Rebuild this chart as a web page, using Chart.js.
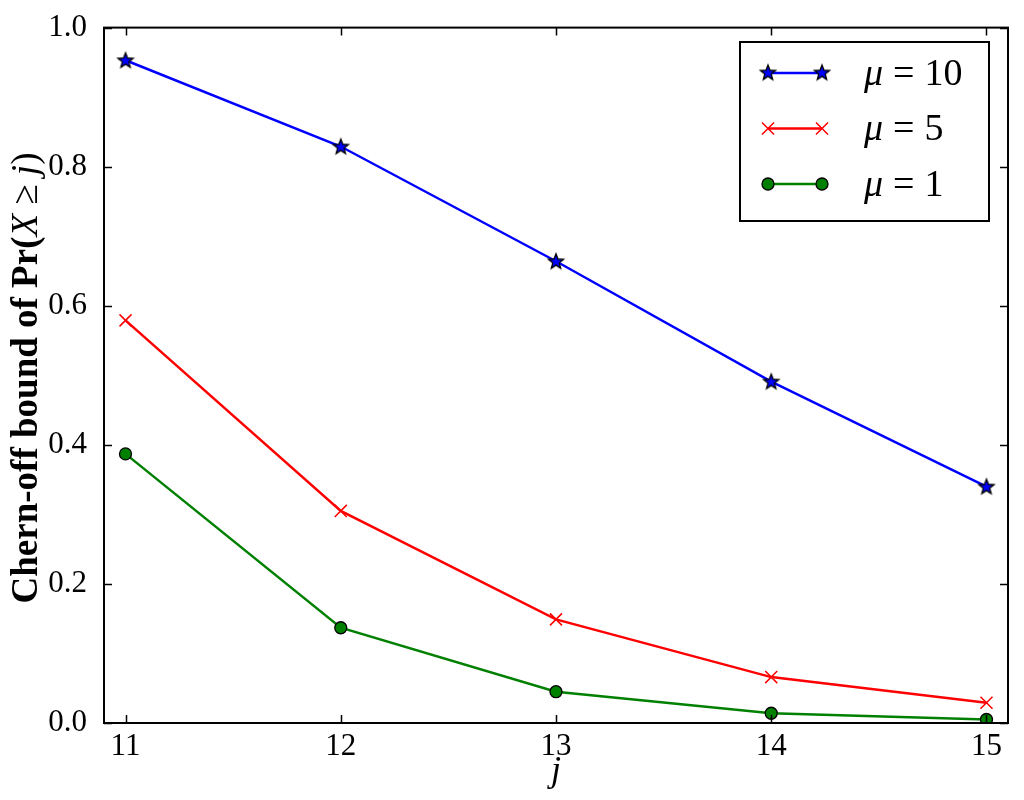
<!DOCTYPE html>
<html>
<head>
<meta charset="utf-8">
<script src="https://cdn.jsdelivr.net/npm/chart.js@4"></script>
<style>
  html, body { margin: 0; padding: 0; background: #fff; }
  canvas { display: block; }
</style>
</head>
<body>
<canvas id="chart" width="1024" height="800"></canvas>
<script>
// values
const jValues = [11, 12, 13, 14, 15];
const mu10 = [0.953, 0.829, 0.664, 0.491, 0.340];
const mu5 = [0.579, 0.305, 0.149, 0.066, 0.029];
const mu1 = [0.387, 0.137, 0.045, 0.014, 0.005];
const seriesLabels = ['10', '5', '1'];
const yTicks = [0.0, 0.2, 0.4, 0.6, 0.8, 1.0];

const SERIF = '"Liberation Serif", "DejaVu Serif", serif';

function starImage(fill) {
    const c = document.createElement('canvas');
    c.width = 20;
    c.height = 20;
    const g = c.getContext('2d');
    g.beginPath();
    for (let i = 0; i < 10; i++) {
        const r = i % 2 === 0 ? 8 : 3.4;
        const a = -Math.PI / 2 + i * Math.PI / 5;
        const px = 10 + r * Math.cos(a);
        const py = 10.5 + r * Math.sin(a);
        if (i === 0) g.moveTo(px, py); else g.lineTo(px, py);
    }
    g.closePath();
    g.fillStyle = fill;
    g.fill();
    g.lineWidth = 1.3;
    g.strokeStyle = '#000';
    g.stroke();
    return c;
}
const star = starImage('#0000ff');

function toPoints(ys) {
    return jValues.map((x, i) => ({ x: x, y: ys[i] }));
}

// inward ticks on all four sides + the frame
const framePlugin = {
    id: 'frame',
    afterDatasetsDraw(chart) {
        const { ctx, chartArea: a, scales } = chart;
        ctx.save();
        ctx.strokeStyle = '#000';
        ctx.lineWidth = 1.5;
        const tl = 8;
        ctx.beginPath();
        scales.x.ticks.forEach(t => {
            const px = Math.round(scales.x.getPixelForValue(t.value)) + 0.5;
            ctx.moveTo(px, a.bottom); ctx.lineTo(px, a.bottom - tl);
            ctx.moveTo(px, a.top); ctx.lineTo(px, a.top + tl);
        });
        scales.y.ticks.forEach(t => {
            const py = Math.round(scales.y.getPixelForValue(t.value)) + 0.5;
            ctx.moveTo(a.left, py); ctx.lineTo(a.left + tl, py);
            ctx.moveTo(a.right, py); ctx.lineTo(a.right - tl, py);
        });
        ctx.stroke();
        ctx.lineWidth = 2;
        ctx.strokeRect(a.left, a.top, a.right - a.left, a.bottom - a.top);
        ctx.restore();
    }
};

// axis titles with mixed text/math styling
const titlesPlugin = {
    id: 'titles',
    afterDraw(chart) {
        const { ctx, chartArea: a } = chart;
        ctx.save();
        ctx.fillStyle = '#000';
        ctx.textBaseline = 'middle';

        // x title
        ctx.font = 'italic 36px ' + SERIF;
        ctx.textAlign = 'center';
        ctx.fillText('j', (a.left + a.right) / 2, 772);

        // y title, rotated
        const parts = [
            ['bold 37px ' + SERIF, 'Chern-off bound of Pr('],
            ['italic 37px ' + SERIF, 'X'],
            ['37px ' + SERIF, ' \u2265 '],
            ['italic 37px ' + SERIF, 'j'],
            ['37px ' + SERIF, ')']
        ];
        let total = 0;
        parts.forEach(p => { ctx.font = p[0]; total += ctx.measureText(p[1]).width; });
        ctx.translate(27, 378);
        ctx.rotate(-Math.PI / 2);
        ctx.textAlign = 'left';
        let cx = -total / 2;
        parts.forEach(p => {
            ctx.font = p[0];
            ctx.fillText(p[1], cx, 0);
            cx += ctx.measureText(p[1]).width;
        });
        ctx.restore();
    }
};

// matplotlib-like legend: line with a marker at both ends
const legendPlugin = {
    id: 'mplLegend',
    afterDraw(chart) {
        const { ctx } = chart;
        const box = { x: 740, y: 42, w: 249, h: 179 };
        ctx.save();
        ctx.fillStyle = '#fff';
        ctx.fillRect(box.x, box.y, box.w, box.h);
        ctx.strokeStyle = '#000';
        ctx.lineWidth = 2;
        ctx.strokeRect(box.x, box.y, box.w, box.h);

        chart.data.datasets.forEach((ds, i) => {
            const y = 73 + i * 55.5;
            const x0 = 768, x1 = 822;
            ctx.strokeStyle = ds.borderColor;
            ctx.lineWidth = ds.borderWidth;
            ctx.beginPath();
            ctx.moveTo(x0, y);
            ctx.lineTo(x1, y);
            ctx.stroke();
            [x0, x1].forEach(px => {
                if (ds.pointStyle === star) {
                    ctx.drawImage(star, px - 10, y - 10.5);
                    return;
                }
                ctx.fillStyle = ds.pointBackgroundColor;
                ctx.strokeStyle = ds.pointBorderColor;
                ctx.lineWidth = ds.pointBorderWidth;
                ctx.beginPath();
                if (ds.pointStyle === 'circle') {
                    ctx.arc(px, y, ds.pointRadius, 0, Math.PI * 2);
                    ctx.fill();
                    ctx.stroke();
                } else {
                    const d = ds.pointRadius * 0.7071;
                    ctx.moveTo(px - d, y - d); ctx.lineTo(px + d, y + d);
                    ctx.moveTo(px - d, y + d); ctx.lineTo(px + d, y - d);
                    ctx.stroke();
                }
            });
            ctx.fillStyle = '#000';
            ctx.textBaseline = 'middle';
            ctx.textAlign = 'left';
            ctx.font = 'italic 38px ' + SERIF;
            ctx.fillText('\u03bc', 864, y + 2);
            let x = 864 + ctx.measureText('\u03bc').width + 10;
            ctx.font = '38px ' + SERIF;
            ctx.fillText('=', x, y + 2);
            x += ctx.measureText('=').width + 10;
            ctx.fillText(seriesLabels[i], x, y + 2);
        });
        ctx.restore();
    }
};

const ctx = document.getElementById('chart').getContext('2d');
new Chart(ctx, {
    type: 'line',
    data: {
        datasets: [
            {
                label: 'mu = 10',
                data: toPoints(mu10),
                borderColor: '#0000ff',
                borderWidth: 2.5,
                pointStyle: star,
                pointRadius: 9,
                pointBackgroundColor: '#0000ff',
                pointBorderColor: '#000',
                pointBorderWidth: 1.3
            },
            {
                label: 'mu = 5',
                data: toPoints(mu5),
                borderColor: '#ff0000',
                borderWidth: 2.5,
                pointStyle: 'crossRot',
                pointRadius: 8.5,
                pointBackgroundColor: '#ff0000',
                pointBorderColor: '#ff0000',
                pointBorderWidth: 1.5
            },
            {
                label: 'mu = 1',
                data: toPoints(mu1),
                borderColor: '#008000',
                borderWidth: 2.5,
                pointStyle: 'circle',
                pointRadius: 6,
                pointBackgroundColor: '#008000',
                pointBorderColor: '#000',
                pointBorderWidth: 1.3
            }
        ]
    },
    options: {
        responsive: false,
        animation: false,
        events: [],
        layout: { padding: { left: 0, top: 23, right: 16, bottom: 0 } },
        elements: { line: { tension: 0 } },
        plugins: {
            legend: { display: false },
            tooltip: { enabled: false }
        },
        scales: {
            x: {
                type: 'linear',
                min: 10.9,
                max: 15.1,
                afterBuildTicks: scale => {
                    scale.ticks = jValues.map(v => ({ value: v }));
                },
                afterFit: scale => { scale.height = 77; },
                grid: { display: false },
                border: { display: false },
                ticks: {
                    color: '#000',
                    padding: -3,
                    maxRotation: 0,
                    font: { family: SERIF, size: 31 },
                    callback: v => String(v)
                }
            },
            y: {
                type: 'linear',
                min: 0,
                max: 1,
                afterBuildTicks: scale => {
                    scale.ticks = yTicks.map(v => ({ value: v }));
                },
                afterFit: scale => { scale.width = 104; },
                grid: { display: false },
                border: { display: false },
                ticks: {
                    color: '#000',
                    padding: 9,
                    font: { family: SERIF, size: 31 },
                    callback: v => Number(v).toFixed(1)
                }
            }
        }
    },
    plugins: [framePlugin, titlesPlugin, legendPlugin]
});
</script>
</body>
</html>
